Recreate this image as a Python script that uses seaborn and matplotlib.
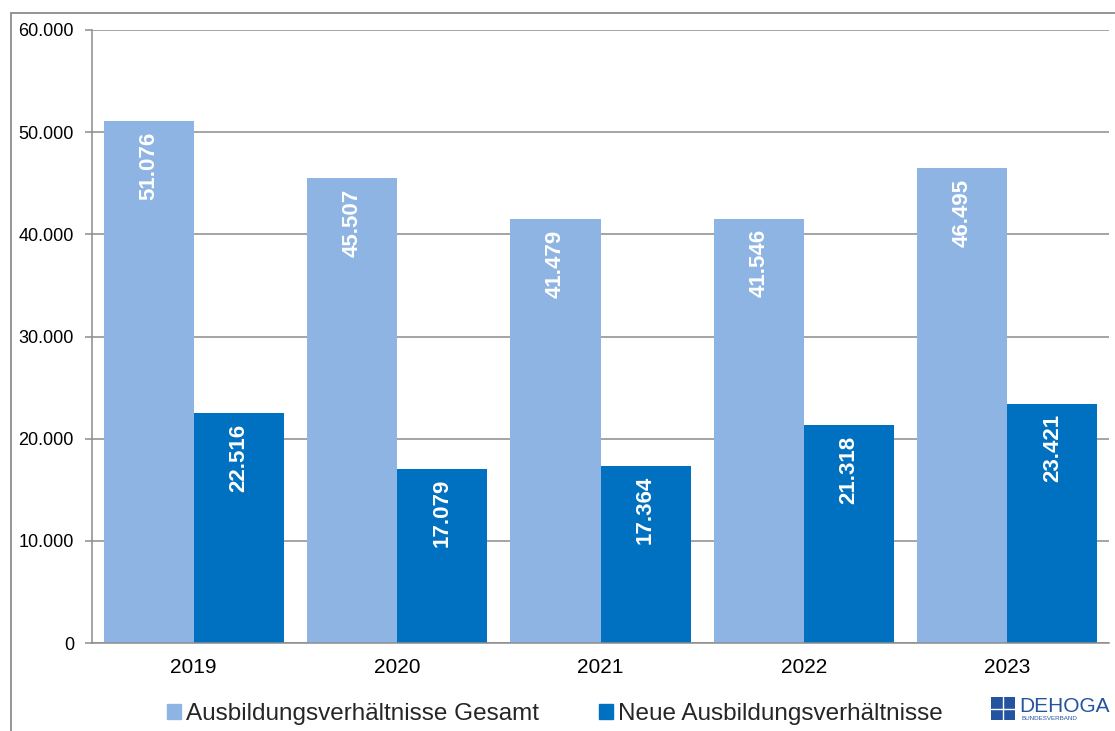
import pandas as pd
import matplotlib
matplotlib.use("Agg")
import matplotlib.pyplot as plt
import matplotlib.patches as mpatches
import seaborn as sns

# ---------------- DATA ----------------
YEARS = ["2019", "2020", "2021", "2022", "2023"]
GESAMT = [51076, 45507, 41479, 41546, 46495]
NEUE = [22516, 17079, 17364, 21318, 23421]
SERIES = ["Ausbildungsverhältnisse Gesamt", "Neue Ausbildungsverhältnisse"]
Y_TICKS = [0, 10000, 20000, 30000, 40000, 50000, 60000]

COLORS = ["#8EB4E3", "#0070C0"]
GRID = "#8C8C8C"
LOGO = "#2453A0"

df = pd.DataFrame({
    "Jahr": YEARS * 2,
    "Wert": GESAMT + NEUE,
    "Serie": [SERIES[0]] * len(YEARS) + [SERIES[1]] * len(YEARS),
})


def fmt(v):
    return f"{v:,.0f}".replace(",", ".")


# ---------------- PLOT ----------------
sns.set_theme(style="white")
plt.rcParams["font.family"] = ["Liberation Sans", "DejaVu Sans"]

fig = plt.figure(figsize=(11.15, 7.31), dpi=100)
ax = fig.add_axes([92 / 1115, 1 - 643 / 731, (1109 - 92) / 1115, (643 - 30) / 731])

sns.barplot(data=df, x="Jahr", y="Wert", hue="Serie", palette=COLORS,
            width=0.886, gap=0, saturation=1, ax=ax, legend=False, linewidth=0)

# value labels inside the bar tops, rotated
for cont in ax.containers:
    for bar in cont:
        h = bar.get_height()
        ax.annotate(fmt(h), (bar.get_x() + bar.get_width() / 2, h),
                    xytext=(0, -7.5), textcoords="offset points",
                    rotation=90, ha="center", va="top",
                    color="white", fontsize=16, fontweight="bold")

ax.set_ylim(0, 60000)
ax.set_xlim(-0.5, len(YEARS) - 0.5)
ax.set_yticks(Y_TICKS)
ax.set_yticklabels([fmt(t) for t in Y_TICKS], fontsize=13, color="black")
ax.yaxis.grid(True, color=GRID, linewidth=1.1)
ax.set_axisbelow(True)

# category labels at centres, tick marks at boundaries
ax.set_xticks(range(len(YEARS)))
ax.set_xticklabels(YEARS, fontsize=15, color="black")
ax.set_xticks([i - 0.5 for i in range(len(YEARS) + 1)], minor=True)
ax.tick_params(axis="x", which="major", length=0, pad=11)
ax.tick_params(axis="x", which="minor", length=5, width=1.1, color=GRID, direction="out")
ax.tick_params(axis="y", length=5, width=1.1, color=GRID, direction="out", left=True, pad=8)

ax.set_xlabel("")
ax.set_ylabel("")
for side in ["top", "right"]:
    ax.spines[side].set_visible(False)
for side in ["left", "bottom"]:
    ax.spines[side].set_color(GRID)
    ax.spines[side].set_linewidth(1.1)

# legend
handles = [mpatches.Patch(color=c, label=s) for c, s in zip(COLORS, SERIES)]
fig.legend(handles=handles, loc="center", bbox_to_anchor=(555 / 1115, 1 - 714 / 731),
           ncol=2, frameon=False, fontsize=17.5, handlelength=0.6, handleheight=0.6,
           handletextpad=0.2, columnspacing=2.45)

# outer frame
fig.patches.append(mpatches.Rectangle((11 / 1115, -0.1), 1.2, 1.1 - 13 / 731,
                                      transform=fig.transFigure, fill=False,
                                      edgecolor=GRID, linewidth=1.3))

# logo
fig.patches.append(mpatches.Rectangle((991 / 1115, 1 - 720 / 731), 24 / 1115, 23 / 731,
                                      transform=fig.transFigure, facecolor=LOGO,
                                      edgecolor="none"))
fig.add_artist(plt.Line2D([1003 / 1115, 1003 / 1115], [1 - 720 / 731, 1 - 697 / 731],
                          color="white", linewidth=1))
fig.add_artist(plt.Line2D([991 / 1115, 1015 / 1115], [1 - 708.5 / 731, 1 - 708.5 / 731],
                          color="white", linewidth=1))
fig.text(1019 / 1115, 1 - 712 / 731, "DEHOGA", fontsize=15, color=LOGO, va="baseline")
fig.text(1021 / 1115, 1 - 720 / 731, "BUNDESVERBAND", fontsize=4.5, color=LOGO, va="baseline")

fig.savefig("out.png", dpi=100)
